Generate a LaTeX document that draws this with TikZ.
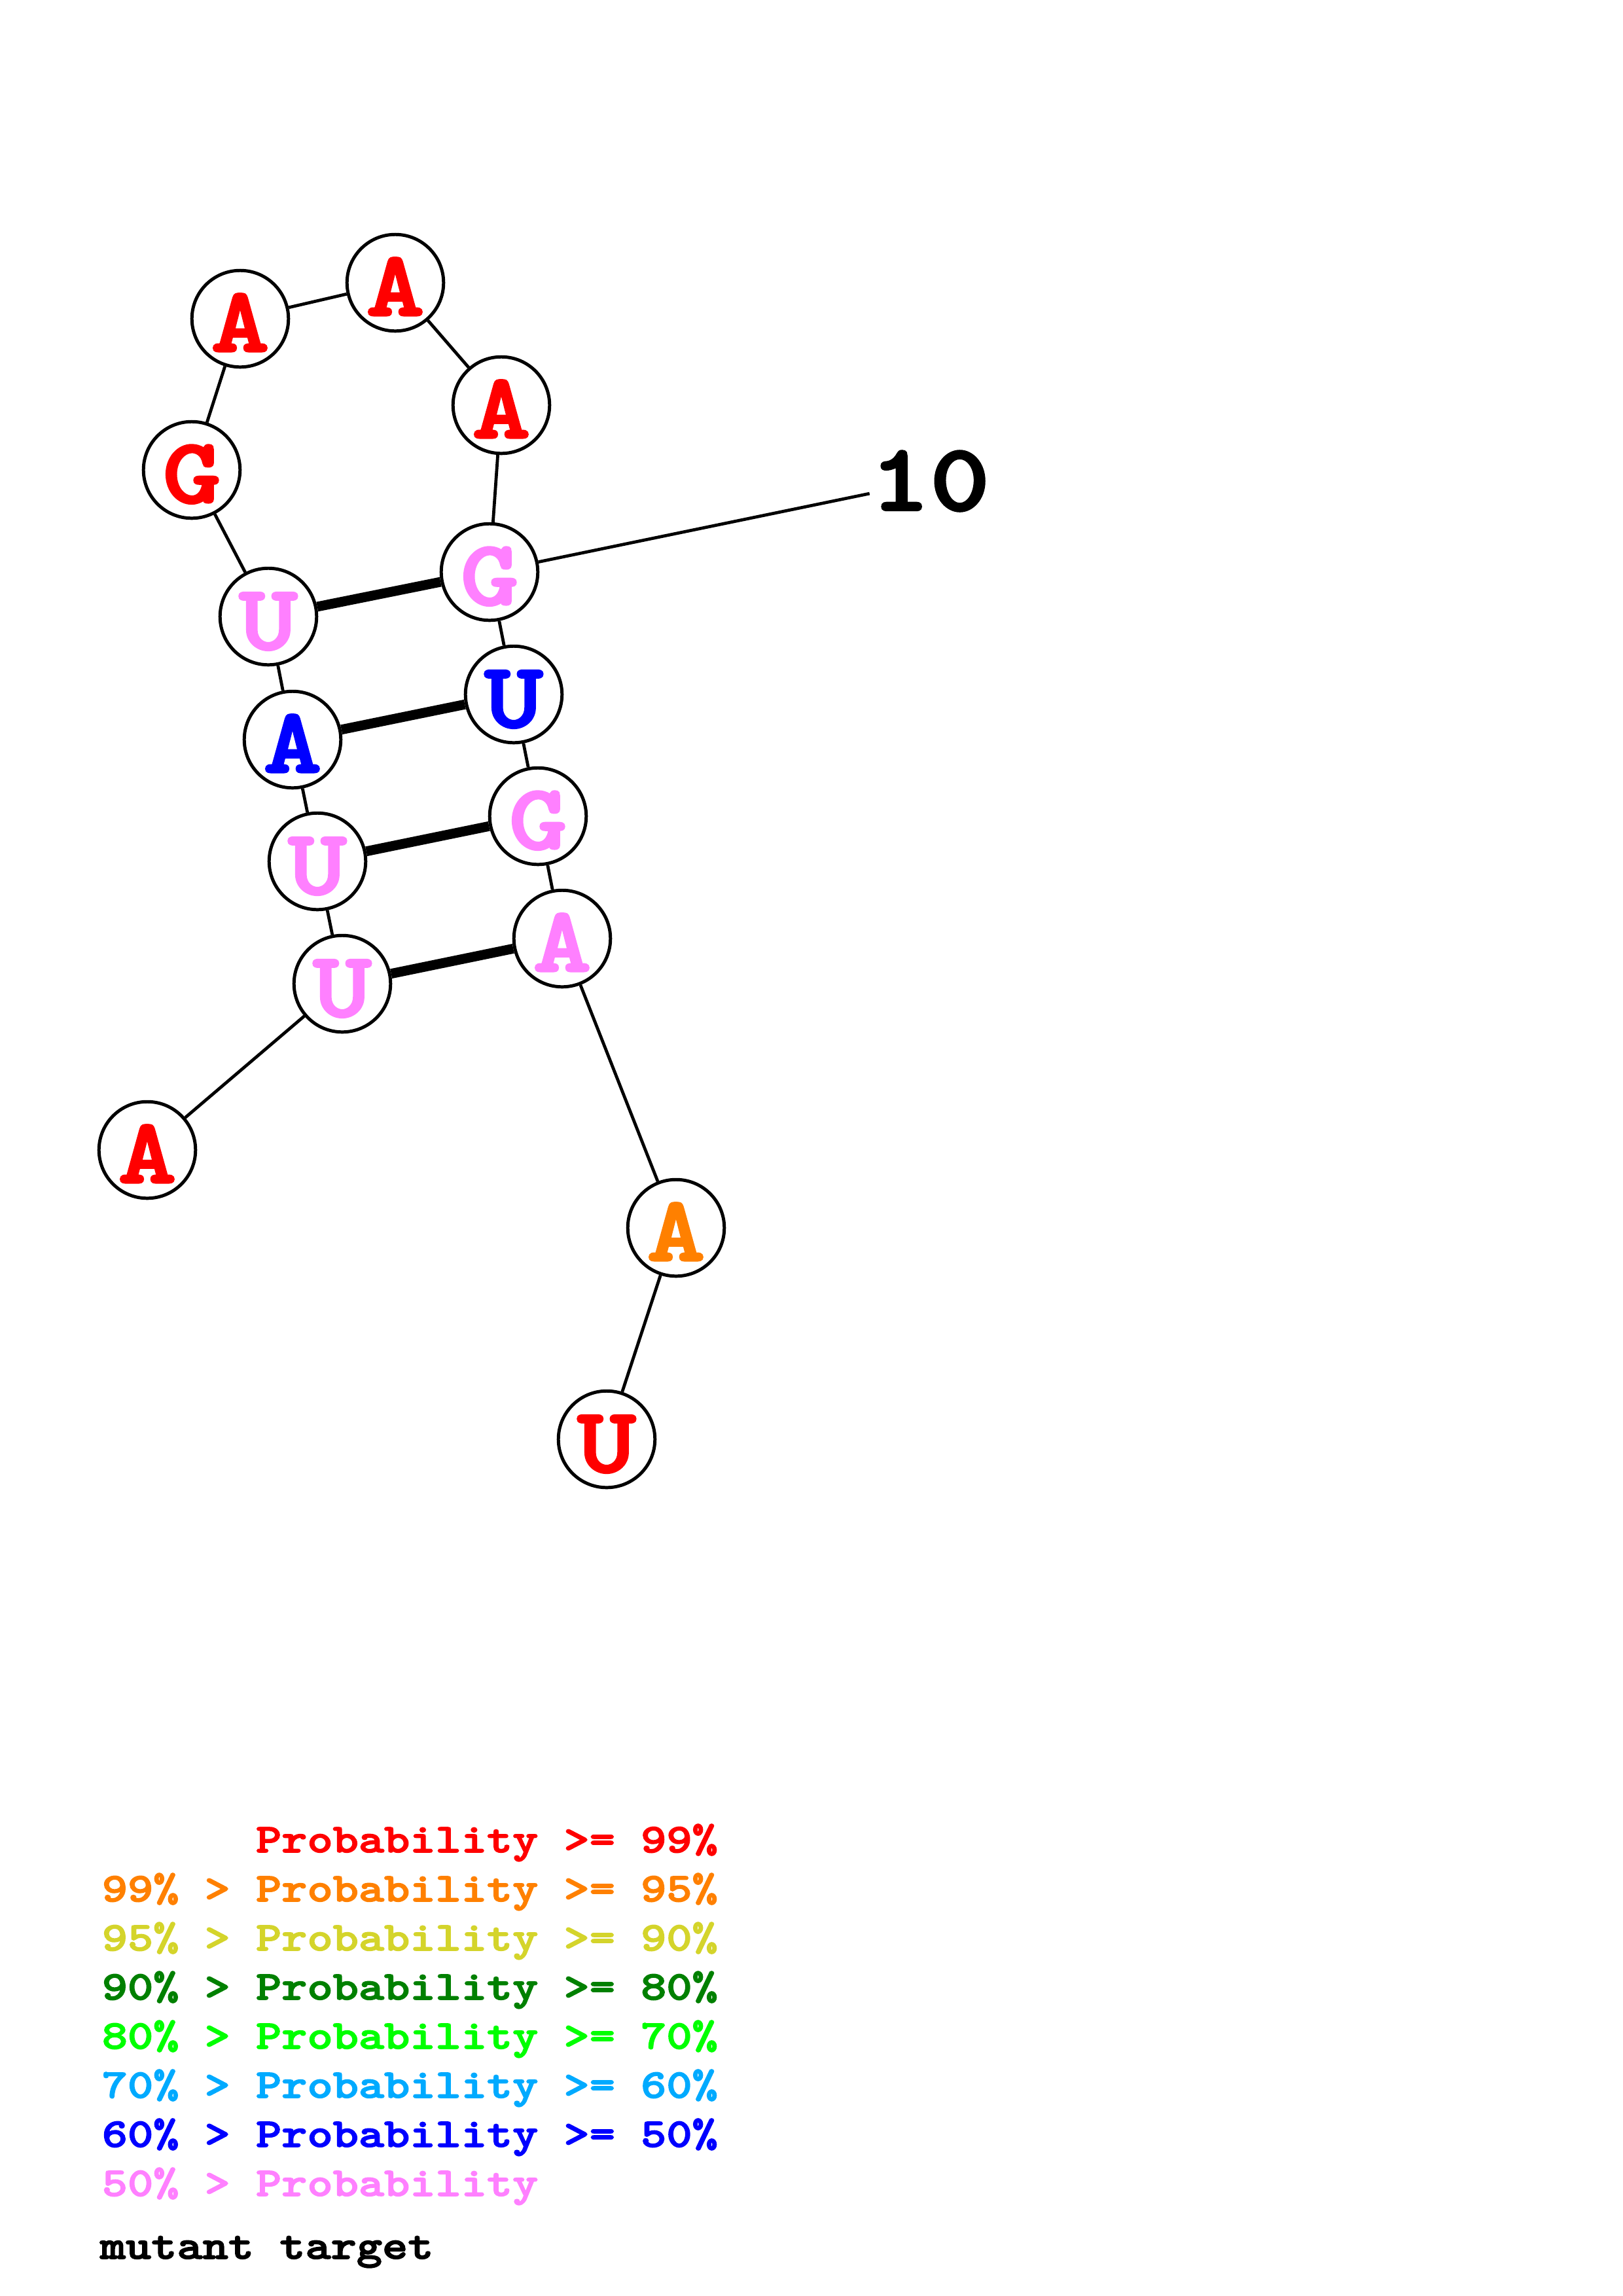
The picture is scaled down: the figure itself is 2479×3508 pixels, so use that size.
\documentclass[tikz,border=0pt]{standalone}
\usepackage{fontspec}
\newfontfamily\courfont{lmmonolt10-bold.otf}[FakeStretch=1.2,FakeBold=2.5]
\definecolor{pr99}{RGB}{255,0,0}
\definecolor{pr95}{RGB}{255,128,0}
\definecolor{pr90}{RGB}{212,212,43}
\definecolor{pr80}{RGB}{0,128,0}
\definecolor{pr70}{RGB}{0,255,0}
\definecolor{pr60}{RGB}{0,170,255}
\definecolor{pr50}{RGB}{0,0,255}
\definecolor{prlow}{RGB}{255,128,255}
\tikzset{
  base/.style={circle,draw=black,line width=1.2pt,fill=white,minimum size=12.5mm,inner sep=0pt,
    text height=24pt,text depth=0pt,font=\courfont\fontsize{34}{34}\selectfont},
  chain/.style={line width=1.15pt},
  pair/.style={line width=3.6pt},
  numlbl/.style={inner sep=0pt,font=\courfont\fontsize{35}{35}\selectfont},
  leg/.style={anchor=base west,inner sep=0pt,font=\courfont\fontsize{15}{15}\selectfont}
}
\begin{document}
\begin{tikzpicture}[x=0.084711mm,y=-0.084711mm]
\useasboundingbox (0,0) rectangle (2479,3508);
% bases, 5' to 3'
\node[base,text=pr99] (n1) at (225,1757) {A};
\node[base,text=prlow] (n2) at (523,1503) {U};
\node[base,text=prlow] (n3) at (485,1316) {U};
\node[base,text=pr50] (n4) at (447,1130) {A};
\node[base,text=prlow] (n5) at (410,942) {U};
\node[base,text=pr99] (n6) at (293,718) {G};
\node[base,text=pr99] (n7) at (367,487) {A};
\node[base,text=pr99] (n8) at (604,432) {A};
\node[base,text=pr99] (n9) at (766,619) {A};
\node[base,text=prlow] (n10) at (748,874) {G};
\node[base,text=pr50] (n11) at (785,1061) {U};
\node[base,text=prlow] (n12) at (822,1247) {G};
\node[base,text=prlow] (n13) at (859,1434) {A};
\node[base,text=pr95] (n14) at (1033,1876) {A};
\node[base,text=pr99] (n15) at (927,2199) {U};
% backbone
\draw[chain] (n1) -- (n2) -- (n3) -- (n4) -- (n5) -- (n6) -- (n7) -- (n8) -- (n9) -- (n10)
  -- (n11) -- (n12) -- (n13) -- (n14) -- (n15);
% pairs
\draw[pair] (n5) -- (n10);
\draw[pair] (n4) -- (n11);
\draw[pair] (n3) -- (n12);
\draw[pair] (n2) -- (n13);
% position mark
\node[numlbl] (lbl10) at (1421,735) {10};
\draw[chain] (n10) -- (lbl10);
% legend
\node[leg,text=pr99] (leg1) at (155,2830) {\phantom{99\% > }Probability >= 99\%};
\node[leg,text=pr95] (leg2) at (155,2905) {99\% > Probability >= 95\%};
\node[leg,text=pr90] (leg3) at (155,2980) {95\% > Probability >= 90\%};
\node[leg,text=pr80] (leg4) at (155,3055) {90\% > Probability >= 80\%};
\node[leg,text=pr70] (leg5) at (155,3130) {80\% > Probability >= 70\%};
\node[leg,text=pr60] (leg6) at (155,3205) {70\% > Probability >= 60\%};
\node[leg,text=pr50] (leg7) at (155,3280) {60\% > Probability >= 50\%};
\node[leg,text=prlow] (leg8) at (155,3355) {50\% > Probability};
\node[leg,text=black] (legmut) at (152,3451) {mutant target};
\end{tikzpicture}
\end{document}
